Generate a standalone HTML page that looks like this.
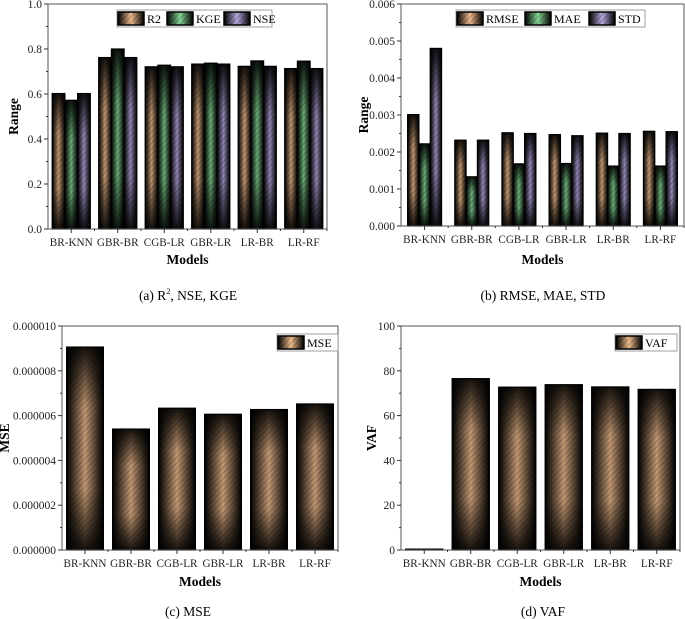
<!DOCTYPE html>
<html><head><meta charset="utf-8"><style>
html,body{margin:0;padding:0;background:#fff;}
svg{display:block;font-family:"Liberation Serif",serif;}
</style></head><body>
<svg id="fig" width="685" height="619" viewBox="0 0 685 619" xmlns="http://www.w3.org/2000/svg">
<defs>
<pattern id="hatch" patternUnits="userSpaceOnUse" width="4" height="4" patternTransform="rotate(45)">
<rect width="4" height="4" fill="none"/><line x1="0" y1="0" x2="0" y2="4" stroke="#000" stroke-width="1.2" opacity="0.35"/>
</pattern>
<linearGradient id="vshade" x1="0" y1="0" x2="0" y2="1">
<stop offset="0" stop-color="#000" stop-opacity="0.9"/><stop offset="0.3" stop-color="#000" stop-opacity="0.2"/><stop offset="0.7" stop-color="#000" stop-opacity="0.2"/><stop offset="1" stop-color="#000" stop-opacity="0.9"/>
</linearGradient>
</defs>
</svg>
<script>
const categories = ["BR-KNN","GBR-BR","CGB-LR","GBR-LR","LR-BR","LR-RF"];
const r2Values = [0.602,0.762,0.721,0.733,0.723,0.713];
const kgeValues = [0.572,0.800,0.728,0.737,0.747,0.746];
const nseValues = [0.602,0.762,0.721,0.733,0.723,0.713];
const rmseValues = [0.00301,0.00232,0.00252,0.00247,0.00251,0.00256];
const maeValues = [0.00222,0.00133,0.00168,0.00169,0.00162,0.00162];
const stdValues = [0.00480,0.00232,0.00250,0.00244,0.00250,0.00255];
const mseValues = [0.00000906,0.00000540,0.00000633,0.00000606,0.00000627,0.00000652];
const vafValues = [0.4,76.5,72.7,73.8,72.8,71.7];
const ticksA = ["0.0","0.2","0.4","0.6","0.8","1.0"];
const ticksB = ["0.000","0.001","0.002","0.003","0.004","0.005","0.006"];
const ticksC = ["0.000000","0.000002","0.000004","0.000006","0.000008","0.000010"];
const ticksD = ["0","20","40","60","80","100"];

const NS="http://www.w3.org/2000/svg";
const svg=document.getElementById('fig');
const defs=svg.querySelector('defs');
function el(tag,attrs,parent){const e=document.createElementNS(NS,tag);for(const k in attrs)e.setAttribute(k,attrs[k]);(parent||svg).appendChild(e);return e;}
function grad(id,color){
  const g=el('linearGradient',{id:id,x1:0,y1:0,x2:1,y2:0},defs);
  el('stop',{offset:0,'stop-color':'#000'},g);
  el('stop',{offset:0.5,'stop-color':color},g);
  el('stop',{offset:1,'stop-color':'#000'},g);
}
grad('gTan','#f2bd8e');grad('gGreen','#86d896');grad('gPurple','#b8a8e0');

function panel(o){
  const g=el('g',{});
  
  
  const L=o.x0,R=o.x1,T=o.y0,B=o.y1,max=o.max;
  const ys=v=>B-(v/max)*(B-T);
  const slot=(R-L)/categories.length;
  const xc=i=>L+slot*(i+0.5);
  const nS=o.series.length, gw=slot*o.gfrac, bw=gw/nS;
  o.series.forEach((s,si)=>{
    s.values.forEach((v,i)=>{
      const x=xc(i)-gw/2+si*bw, y=ys(v), h=B-y;
      const bg=el('g',{},g);
      
      
      el('rect',{x:x,y:y,width:bw,height:h,fill:'url(#'+s.grad+')'},bg);
      el('rect',{x:x,y:y,width:bw,height:h,fill:'url(#vshade)'},bg);
      el('rect',{x:x,y:y,width:bw,height:h,fill:'url(#hatch)',stroke:'#000','stroke-width':1.2},bg);
    });
  });
  const fr=el('rect',{x:L,y:T,width:R-L,height:B-T,fill:'none',stroke:'#555','stroke-width':1},g);
  
  
  const nT=o.ticks.length;
  o.ticks.forEach((t,i)=>{
    const v=max*i/(nT-1), y=ys(v);
    el('line',{x1:L-4,x2:L,y1:y,y2:y,stroke:'#333'},g);
    if(i<nT-1){const ym=ys(v+max/(nT-1)/2);el('line',{x1:L-2,x2:L,y1:ym,y2:ym,stroke:'#333'},g);}
    const tx=el('text',{x:L-6,y:y+4,'font-size':11.5,'text-anchor':'end',fill:'#222'},g);
    tx.textContent=t;
    
    
  });
  categories.forEach((c,i)=>{
    el('line',{x1:xc(i),x2:xc(i),y1:B,y2:B+4,stroke:'#333'},g);
    el('line',{x1:L+slot*(i+1),x2:L+slot*(i+1),y1:B,y2:B+2,stroke:'#333'},g);
    const tx=el('text',{x:xc(i),y:B+17,'font-size':11.2,'text-anchor':'middle',fill:'#222'},g);
    tx.textContent=c;
    
    
  });
  const xt=el('text',{x:(L+R)/2,y:o.xtY,'font-size':13.5,'font-weight':'bold','text-anchor':'middle'},g);
  xt.textContent='Models';
  
  
  const yt=el('text',{x:0,y:0,'font-size':13.5,'font-weight':'bold','text-anchor':'middle',transform:'translate('+o.ytX+','+(T+B)/2+') rotate(-90)'},g);
  yt.textContent=o.ytitle;
  
  
  const lg=el('g',{},g);
  
  
  el('rect',{x:o.leg.x,y:o.leg.y,width:o.leg.w,height:17,fill:'#fff',stroke:'#888','stroke-width':0.8},lg);
  o.series.forEach((s,si)=>{
    const sx=o.leg.xs[si];
    const le=el('g',{},lg);
    
    
    el('rect',{x:sx,y:o.leg.y+2,width:26,height:13,fill:'url(#'+s.grad+')'},le);
    el('rect',{x:sx,y:o.leg.y+2,width:26,height:13,fill:'url(#hatch)',stroke:'#000','stroke-width':1.5},le);
    const lt=el('text',{x:sx+29,y:o.leg.y+13,'font-size':12},le);
    lt.textContent=s.label;
  });
  const cap=el('text',{x:o.capX,y:o.capY,'font-size':13.5,'text-anchor':'middle'},g);
  cap.innerHTML=o.caption;
  
  
}

panel({name:'chart-a',x0:48,x1:327,y0:4,y1:229,max:1.0,ticks:ticksA,gfrac:0.82,ytitle:'Range',ytX:18,xtY:264,
  series:[{key:'r2',label:'R2',values:r2Values,grad:'gTan'},{key:'kge',label:'KGE',values:kgeValues,grad:'gGreen'},{key:'nse',label:'NSE',values:nseValues,grad:'gPurple'}],
  leg:{x:117,y:10,w:155,xs:[118,167,224]},capX:188,capY:300,caption:'(a)  R<tspan dy="-6" font-size="8">2</tspan><tspan dy="6">, NSE, KGE</tspan>'});
panel({name:'chart-b',x0:401,x1:684,y0:4,y1:226,max:0.006,ticks:ticksB,gfrac:0.72,ytitle:'Range',ytX:368,xtY:264,
  series:[{key:'rmse',label:'RMSE',values:rmseValues,grad:'gTan'},{key:'mae',label:'MAE',values:maeValues,grad:'gGreen'},{key:'std',label:'STD',values:stdValues,grad:'gPurple'}],
  leg:{x:456,y:10,w:189,xs:[457,525,589]},capX:543,capY:300,caption:'(b) RMSE, MAE, STD'});
panel({name:'chart-c',x0:62,x1:338,y0:326,y1:550,max:0.00001,ticks:ticksC,gfrac:0.8,ytitle:'MSE',ytX:9,xtY:586,
  series:[{key:'mse',label:'MSE',values:mseValues,grad:'gTan'}],
  leg:{x:277,y:334,w:61,xs:[278]},capX:188,capY:616,caption:'(c) MSE'});
panel({name:'chart-d',x0:401,x1:680,y0:326,y1:550,max:100,ticks:ticksD,gfrac:0.8,ytitle:'VAF',ytX:376,xtY:586,
  series:[{key:'vaf',label:'VAF',values:vafValues,grad:'gTan'}],
  leg:{x:615,y:334,w:62,xs:[616]},capX:543,capY:616,caption:'(d) VAF'});
</script>
</body></html>
